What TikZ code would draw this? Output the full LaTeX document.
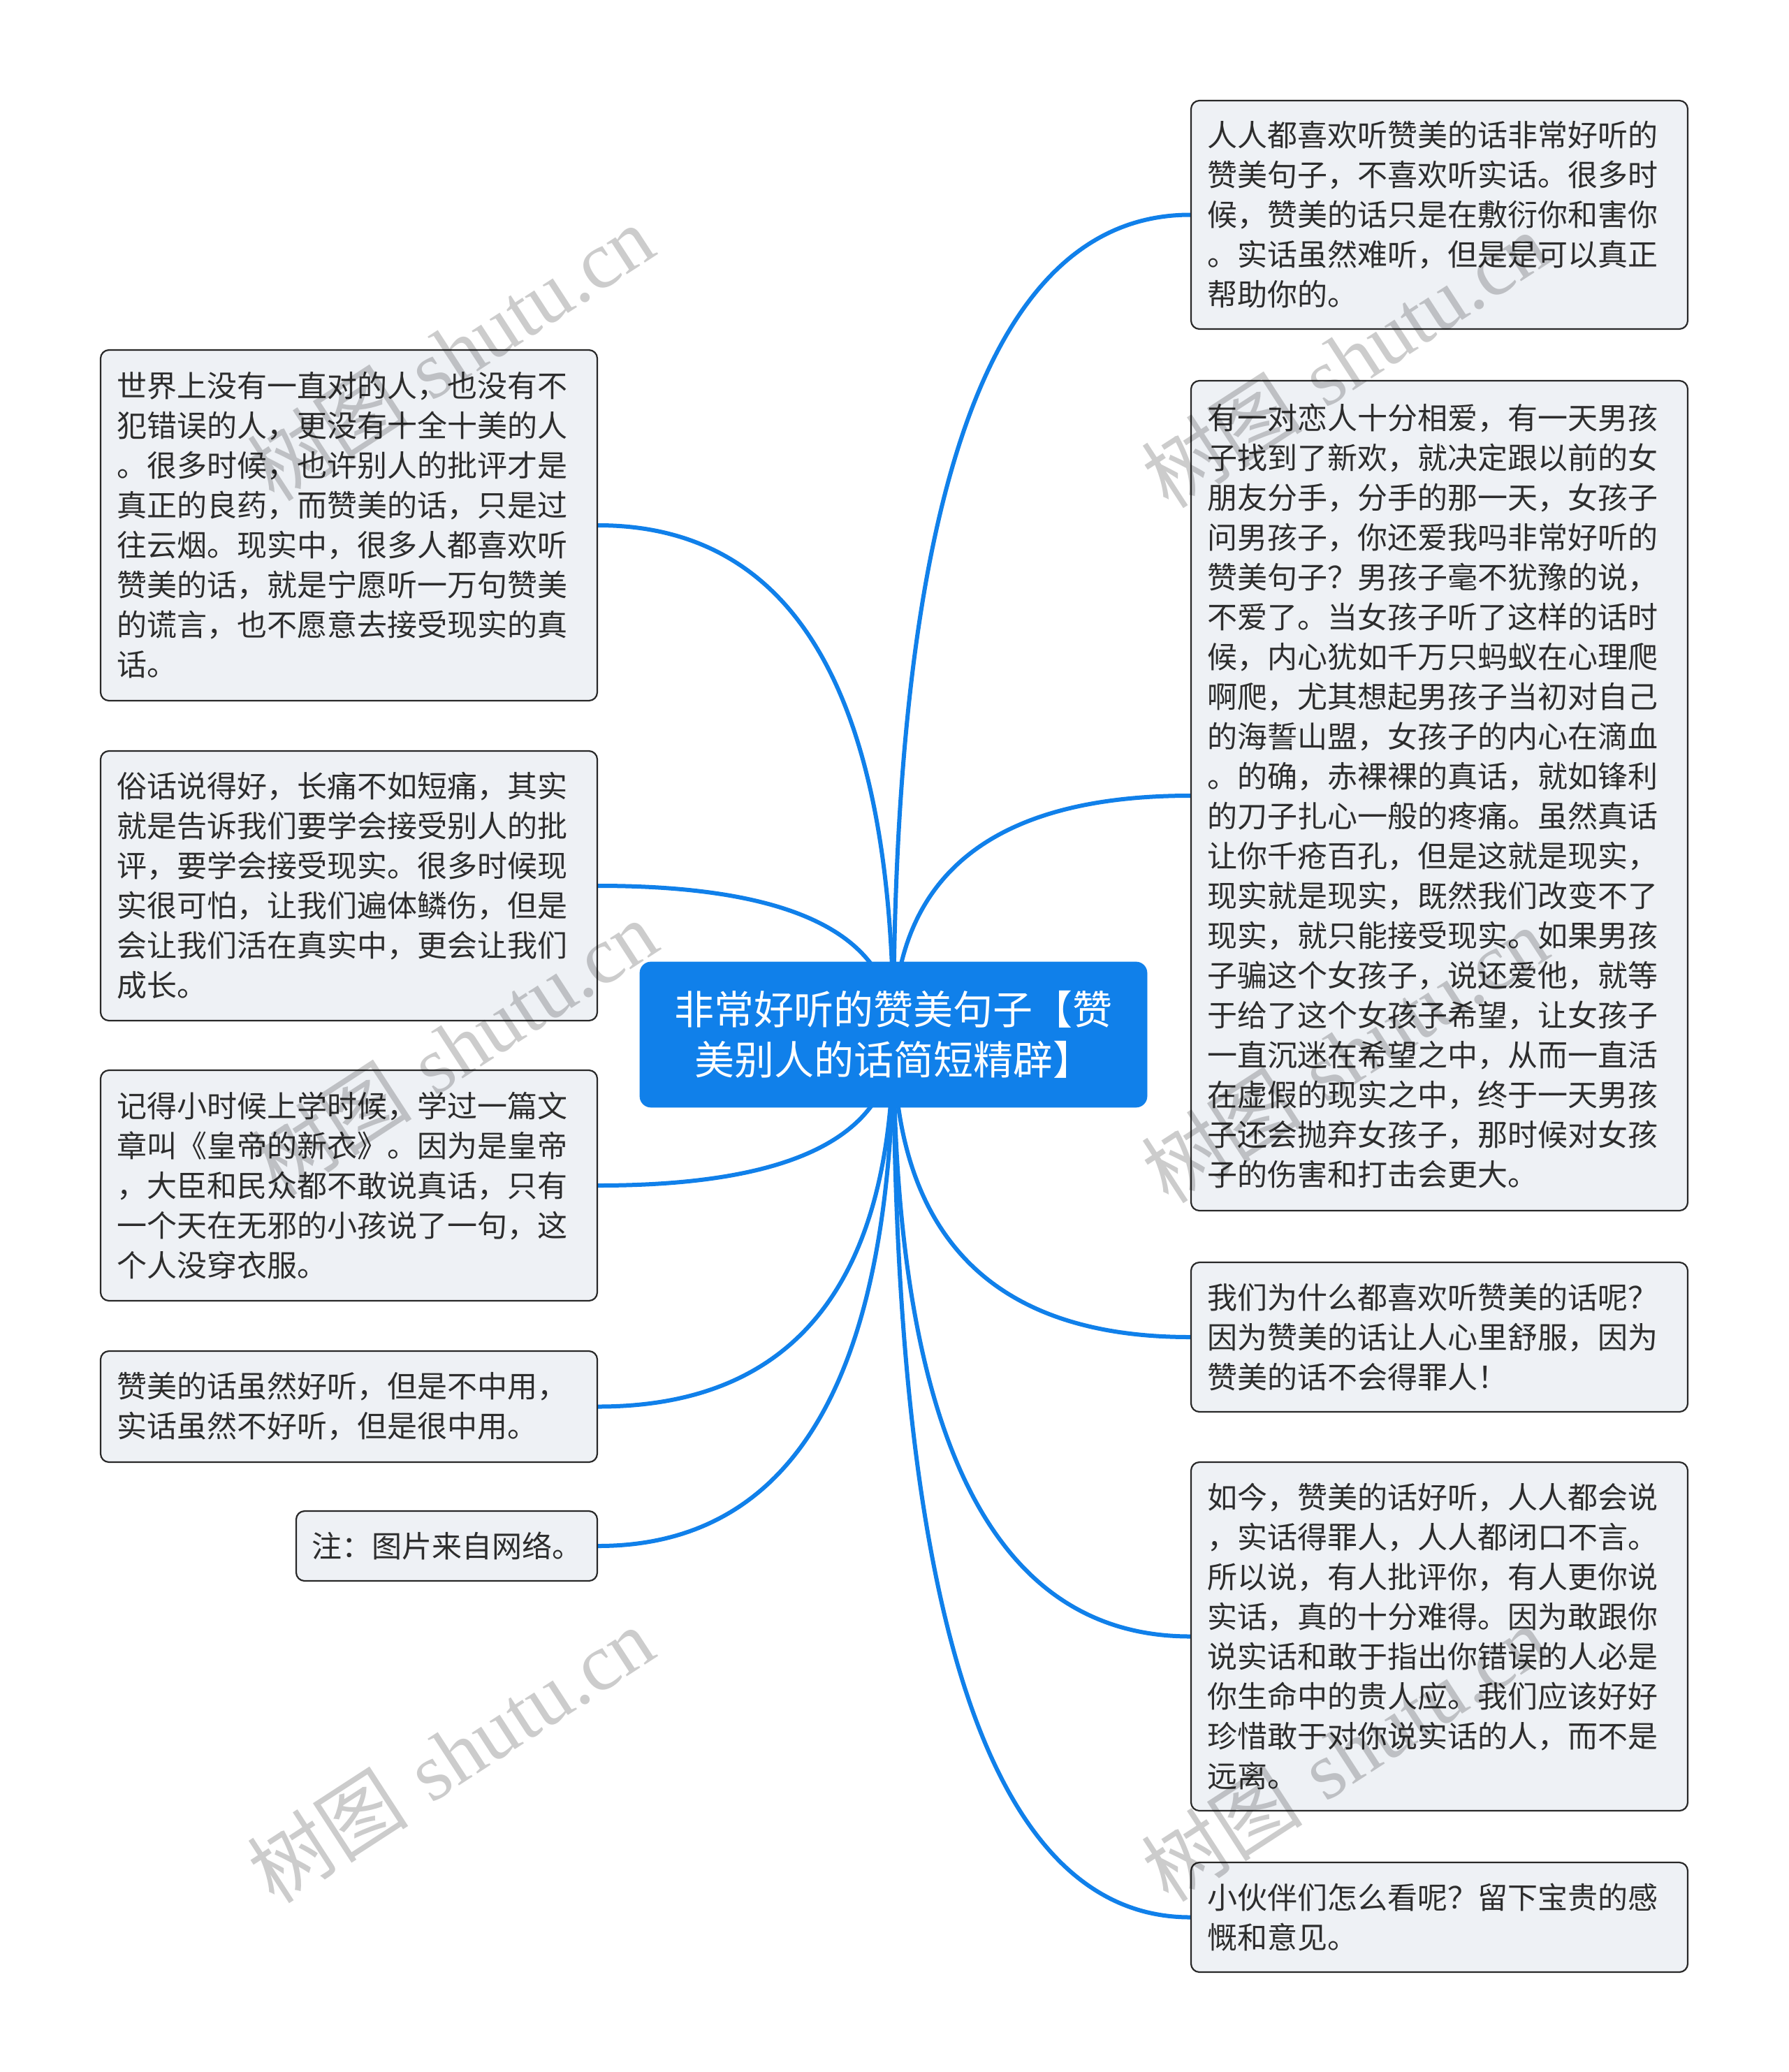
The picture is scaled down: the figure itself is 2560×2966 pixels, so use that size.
\documentclass[tikz,border=0pt]{standalone}
\usepackage{fontspec}
\newfontfamily\cjk{Noto Sans CJK SC}
\newfontfamily\wmfont{Liberation Serif}
\usetikzlibrary{calc}
\definecolor{mmblue}{RGB}{16,128,234}
\definecolor{boxfill}{RGB}{238,241,245}
\definecolor{boxline}{RGB}{40,40,40}
\definecolor{txt}{RGB}{45,45,45}
\pgfdeclarelayer{bgfill}
\pgfdeclarelayer{links}
\pgfdeclarelayer{marks}
\pgfsetlayers{bgfill,links,main,marks}
\newcommand\mmlink[2]{\draw[link] (root.center) .. controls ($(root.center)!0.6667!(root.center|-#1.#2)$) and ($(#1.#2)!0.6667!(root.center|-#1.#2)$) .. (#1.#2);}
\begin{document}
\begin{tikzpicture}[x=0.5pt,y=-0.5pt,
  leaf/.style={draw=boxline, line width=1.1pt, fill=boxfill, rounded corners=6pt,
    text=txt, font=\cjk\fontsize{21.5pt}{28.5pt}\selectfont, align=left,
    text width=332.5pt, inner xsep=11.5pt, inner ysep=0pt, anchor=center},
  rootbox/.style={fill=mmblue, draw=mmblue, rounded corners=8pt, text=white,
    font=\cjk\fontsize{28.5pt}{36pt}\selectfont, align=center,
    minimum width=363pt, minimum height=104pt, inner sep=0pt, anchor=center},
  link/.style={draw=mmblue, line width=3pt, line cap=round},
  wm/.style={font=\fontsize{58pt}{58pt}\selectfont, text=black, text opacity=0.2,
    rotate=33, anchor=center, inner sep=0pt}]
\begin{pgfonlayer}{bgfill}
\fill[white] (0,0) rectangle (2560,2966);
\end{pgfonlayer}
\useasboundingbox (0,0) rectangle (2560,2966);

\node[rootbox] (root) at (1279,1481) {非常好听的赞美句子【赞\\美别人的话简短精辟】};

\node[leaf, minimum height=163.5pt] (r1) at (2060.5,307.5) {人人都喜欢听赞美的话非常好听的\\赞美句子，不喜欢听实话。很多时\\候，赞美的话只是在敷衍你和害你\\。实话虽然难听，但是是可以真正\\帮助你的。};
\node[leaf, minimum height=594pt] (r2) at (2060.5,1139) {有一对恋人十分相爱，有一天男孩\\子找到了新欢，就决定跟以前的女\\朋友分手，分手的那一天，女孩子\\问男孩子，你还爱我吗非常好听的\\赞美句子？男孩子毫不犹豫的说，\\不爱了。当女孩子听了这样的话时\\候，内心犹如千万只蚂蚁在心理爬\\啊爬，尤其想起男孩子当初对自己\\的海誓山盟，女孩子的内心在滴血\\。的确，赤裸裸的真话，就如锋利\\的刀子扎心一般的疼痛。虽然真话\\让你千疮百孔，但是这就是现实，\\现实就是现实，既然我们改变不了\\现实，就只能接受现实。如果男孩\\子骗这个女孩子，说还爱他，就等\\于给了这个女孩子希望，让女孩子\\一直沉迷在希望之中，从而一直活\\在虚假的现实之中，终于一天男孩\\子还会抛弃女孩子，那时候对女孩\\子的伤害和打击会更大。};
\node[leaf, minimum height=107pt] (r3) at (2060.5,1914) {我们为什么都喜欢听赞美的话呢？\\因为赞美的话让人心里舒服，因为\\赞美的话不会得罪人！};
\node[leaf, minimum height=249.5pt] (r4) at (2060.5,2342.5) {如今，赞美的话好听，人人都会说\\，实话得罪人，人人都闭口不言。\\所以说，有人批评你，有人更你说\\实话，真的十分难得。因为敢跟你\\说实话和敢于指出你错误的人必是\\你生命中的贵人应。我们应该好好\\珍惜敢于对你说实话的人，而不是\\远离。};
\node[leaf, minimum height=78.5pt] (r5) at (2060.5,2744.5) {小伙伴们怎么看呢？留下宝贵的感\\慨和意见。};

\node[leaf, minimum height=251pt] (l1) at (499.5,752) {世界上没有一直对的人，也没有不\\犯错误的人，更没有十全十美的人\\。很多时候，也许别人的批评才是\\真正的良药，而赞美的话，只是过\\往云烟。现实中，很多人都喜欢听\\赞美的话，就是宁愿听一万句赞美\\的谎言，也不愿意去接受现实的真\\话。};
\node[leaf, minimum height=193pt] (l2) at (499.5,1268) {俗话说得好，长痛不如短痛，其实\\就是告诉我们要学会接受别人的批\\评，要学会接受现实。很多时候现\\实很可怕，让我们遍体鳞伤，但是\\会让我们活在真实中，更会让我们\\成长。};
\node[leaf, minimum height=165pt] (l3) at (499.5,1697) {记得小时候上学时候，学过一篇文\\章叫《皇帝的新衣》。因为是皇帝\\，大臣和民众都不敢说真话，只有\\一个天在无邪的小孩说了一句，这\\个人没穿衣服。};
\node[leaf, minimum height=79.5pt] (l4) at (499.5,2013.5) {赞美的话虽然好听，但是不中用，\\实话虽然不好听，但是很中用。};
\node[leaf, minimum height=50pt, text width=193.5pt, inner xsep=11pt] (l5) at (639.5,2213) {注：图片来自网络。};

\begin{pgfonlayer}{links}
\mmlink{r1}{west}
\mmlink{r2}{west}
\mmlink{r3}{west}
\mmlink{r4}{west}
\mmlink{r5}{west}
\mmlink{l1}{east}
\mmlink{l2}{east}
\mmlink{l3}{east}
\mmlink{l4}{east}
\mmlink{l5}{east}
\end{pgfonlayer}

\begin{pgfonlayer}{marks}
\node[wm] (wm1) at (645,505) {{\cjk 树图} {\wmfont shutu.cn}};
\node[wm] (wm2) at (1925,515) {{\cjk 树图} {\wmfont shutu.cn}};
\node[wm] (wm3) at (650,1500) {{\cjk 树图} {\wmfont shutu.cn}};
\node[wm] (wm4) at (1925,1510) {{\cjk 树图} {\wmfont shutu.cn}};
\node[wm] (wm5) at (645,2512) {{\cjk 树图} {\wmfont shutu.cn}};
\node[wm] (wm6) at (1925,2510) {{\cjk 树图} {\wmfont shutu.cn}};
\end{pgfonlayer}
\end{tikzpicture}
\end{document}
